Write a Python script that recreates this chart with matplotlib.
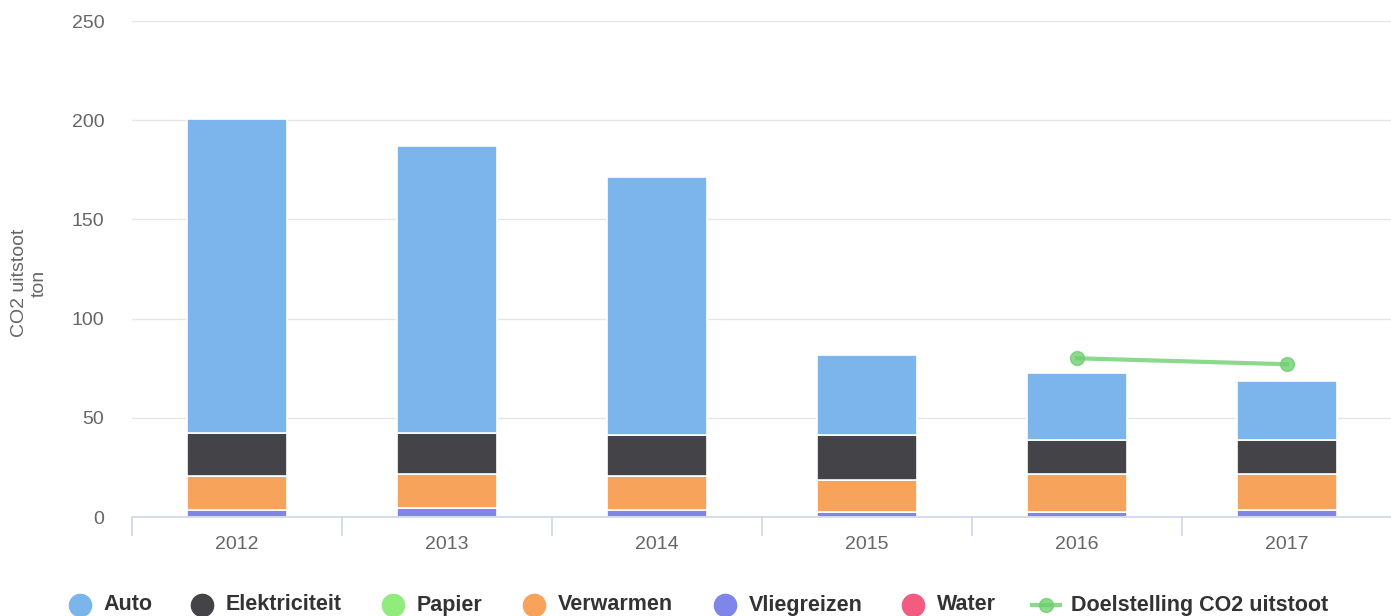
import numpy as np
import matplotlib.pyplot as plt
from matplotlib.lines import Line2D

plt.rcParams['font.family'] = ['Liberation Sans', 'DejaVu Sans']

jaren = ['2012', '2013', '2014', '2015', '2016', '2017']
auto = [158.3, 144.7, 130.1, 40.4, 33.8, 29.7]
elektriciteit = [21.6, 20.6, 20.6, 22.7, 17.1, 17.1]
papier = [0.2, 0.2, 0.2, 0.2, 0.2, 0.2]
verwarmen = [17.0, 17.0, 17.0, 15.9, 19.0, 18.0]
vliegreizen = [3.4, 4.4, 3.4, 2.4, 2.4, 3.4]
water = [0.1, 0.1, 0.1, 0.1, 0.1, 0.1]
doel_jaren = [4, 5]
doelstelling = [80, 77]

series = [
    ('Water', water, '#f15c80'),
    ('Vliegreizen', vliegreizen, '#8085e9'),
    ('Verwarmen', verwarmen, '#f7a35c'),
    ('Papier', papier, '#90ed7d'),
    ('Elektriciteit', elektriciteit, '#434348'),
    ('Auto', auto, '#7cb5ec'),
]

fig = plt.figure(figsize=(13.91, 6.16), dpi=100)
ax = fig.add_axes([132 / 1391, 99 / 616, 1260 / 1391, 496 / 616])

x = np.arange(len(jaren))
bottom = np.zeros(len(jaren))
for naam, waarden, kleur in series:
    ax.bar(x, waarden, width=0.476, bottom=bottom, color=kleur,
           edgecolor='white', linewidth=1.2, zorder=2)
    bottom += np.array(waarden)

ax.plot(doel_jaren, doelstelling, color='#6fcf6f', alpha=0.8, linewidth=3,
        marker='o', markersize=10, zorder=3)

ax.set_xlim(-0.5, 5.5)
ax.set_ylim(0, 250)
ax.set_yticks([0, 50, 100, 150, 200, 250])
ax.grid(axis='y', color='#e6e6e6', linewidth=1, zorder=0)
ax.set_axisbelow(True)
for s in ['top', 'right', 'left']:
    ax.spines[s].set_visible(False)
ax.spines['bottom'].set_color('#ccd6eb')
ax.spines['bottom'].set_linewidth(1.2)

ax.set_xticks(x)
ax.set_xticklabels(jaren)
ax.tick_params(axis='x', length=0, pad=14, labelsize=14, labelcolor='#666666')
ax.set_xticks(np.arange(-0.5, 6, 1), minor=True)
ax.tick_params(axis='x', which='minor', length=14, color='#ccd6eb', width=1.2)
ax.tick_params(axis='y', length=0, pad=20, labelsize=14, labelcolor='#666666')

# y-as titel
fig.text(29 / 1391, 1 - 283 / 616, 'CO2 uitstoot\nton', fontsize=14, color='#666666',
         rotation=90, ha='center', va='center', multialignment='center')

# legenda
legend_items = [
    ('Auto', '#7cb5ec', 80, 103),
    ('Elektriciteit', '#434348', 202, 226),
    ('Papier', '#90ed7d', 393, 417),
    ('Verwarmen', '#f7a35c', 534, 558),
    ('Vliegreizen', '#8085e9', 725, 749),
    ('Water', '#f15c80', 913, 937),
]
ly = 1 - 605 / 616
for naam, kleur, mx, tx in legend_items:
    fig.add_artist(Line2D([mx / 1391], [ly], marker='o', markersize=16,
                          color=kleur, linestyle='none', transform=fig.transFigure))
    fig.text(tx / 1391, ly, naam, fontsize=15.5, fontweight='bold',
             color='#333333', va='center', ha='left')
fig.add_artist(Line2D([1032 / 1391, 1060 / 1391], [ly, ly], color='#6fcf6f', alpha=0.8,
                      linewidth=3, transform=fig.transFigure))
fig.add_artist(Line2D([1046 / 1391], [ly], marker='o', markersize=10, color='#6fcf6f',
                      alpha=0.8, linestyle='none', transform=fig.transFigure))
fig.text(1071 / 1391, ly, 'Doelstelling CO2 uitstoot', fontsize=15.5, fontweight='bold',
         color='#333333', va='center', ha='left')

fig.savefig('out.png', dpi=100)
